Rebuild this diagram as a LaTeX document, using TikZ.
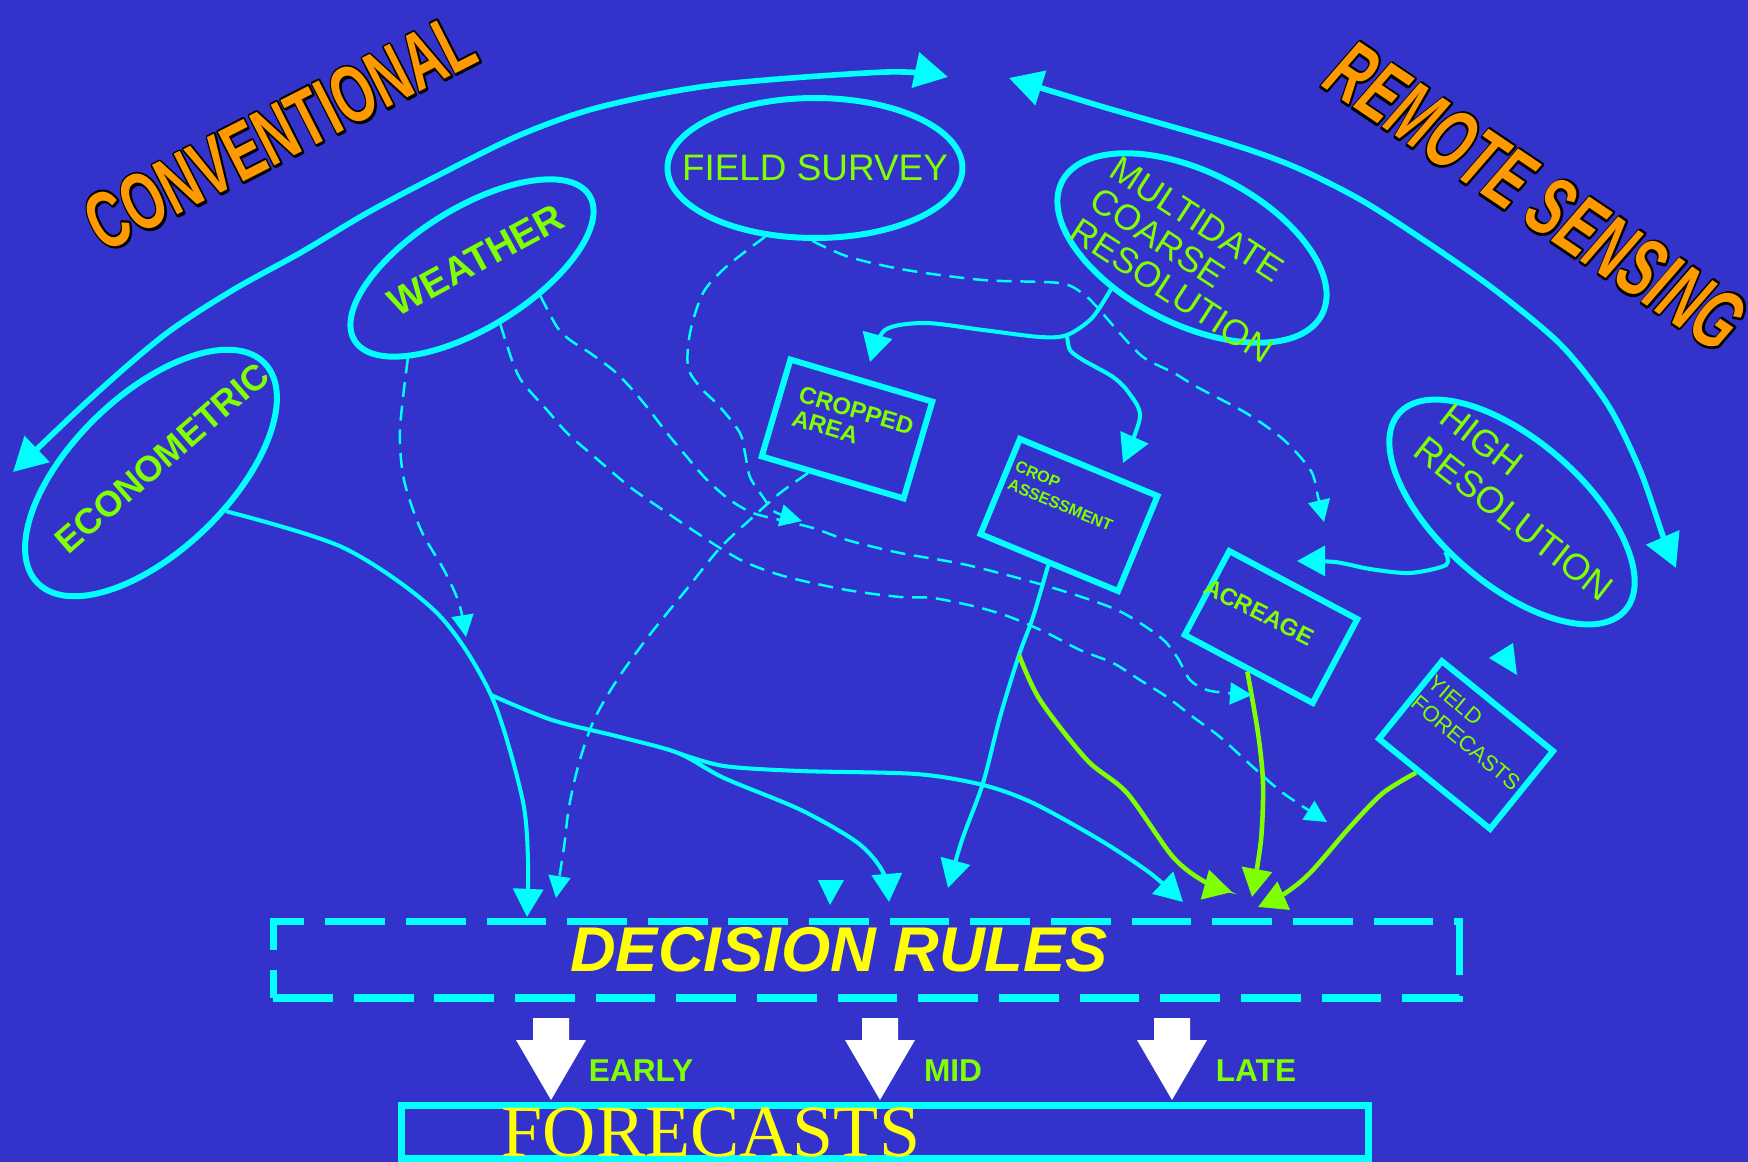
\documentclass[tikz,border=0pt]{standalone}
\usepackage{fontspec}
\setmainfont{Liberation Sans}
\newfontfamily\timesfc{Liberation Serif}
\usetikzlibrary{arrows.meta,shapes.geometric}
\definecolor{slide}{RGB}{51,51,204}
\definecolor{aqua}{RGB}{0,255,255}
\definecolor{lime}{RGB}{128,255,0}
\definecolor{amber}{RGB}{255,153,0}
\definecolor{lemon}{RGB}{255,255,0}
% black stroked glyphs under the orange ones
\newcommand\rimtext[1]{\rlap{\special{pdf:literal direct 0 G 1 j 2.8 w 1 Tr}#1\special{pdf:literal direct 0 Tr}}#1}
\begin{document}
\begin{tikzpicture}[x=0.02cm,y=-0.02cm,
  oval/.style={draw=aqua,line width=3.4pt,ellipse,inner sep=0pt},
  card/.style={draw=aqua,line width=3.4pt,rectangle,inner sep=0pt},
  lbl/.style={text=lime,inner sep=0pt,align=left},
  flow/.style={draw=aqua,line width=2.3pt,-{Triangle[length=16pt,width=17pt]}},
  gflow/.style={draw=lime,line width=2.6pt,-{Triangle[length=16pt,width=17pt]}},
  hint/.style={draw=aqua,line width=1.4pt,dash pattern=on 8.5pt off 5pt,-{Triangle[length=12.5pt,width=12.5pt]}},
  bigarc/.style={draw=aqua,line width=3.2pt}]
\useasboundingbox (0,0) rectangle (1748,1162);
\fill[slide] (0,0) rectangle (1748,1162);

% titles
\node[text=amber,inner sep=0pt,font=\fontsize{46}{46}\selectfont\bfseries,rotate=27,xscale=0.656] (conv) at (280,132) {\rimtext{CONVENTIONAL}};
\node[text=amber,inner sep=0pt,font=\fontsize{48}{48}\selectfont\bfseries\itshape,rotate=-34,xscale=0.63] (remote) at (1536,196) {\rimtext{REMOTE SENSING}};

% sources
\node[oval,minimum width=5.9cm,minimum height=2.8cm] (fs) at (815,168) {};
\node[lbl,font=\fontsize{21}{21}\selectfont] (fstxt) at (815,168) {FIELD SURVEY};
\node[oval,minimum width=5.52cm,minimum height=2.4cm,rotate=31.7] (wea) at (472,268) {};
\node[lbl,font=\fontsize{22}{22}\selectfont\bfseries,rotate=28.5] (weatxt) at (476,260) {WEATHER};
\node[oval,minimum width=6.32cm,minimum height=3.12cm,rotate=44] (eco) at (151,473) {};
\node[lbl,font=\fontsize{20.4}{20.4}\selectfont\bfseries,rotate=41] (ecotxt) at (162,458) {ECONOMETRIC};
\node[oval,minimum width=5.84cm,minimum height=3.04cm,rotate=-27] (mul) at (1192,248) {};
\node[lbl,font=\fontsize{20.4}{21}\selectfont,rotate=-33] (multxt) at (1192,260) {MULTIDATE\\COARSE\\RESOLUTION};
\node[oval,minimum width=6cm,minimum height=2.88cm,rotate=-41] (hr) at (1512,512) {};
\node[lbl,font=\fontsize{21}{24}\selectfont,rotate=-38] (hrtxt) at (1527,502) {HIGH\\RESOLUTION};

% products
\node[card,minimum width=2.96cm,minimum height=2.02cm,rotate=-16.5] (crop) at (847,429) {};
\node[lbl,font=\fontsize{13.6}{14}\selectfont\bfseries,rotate=-16.5] (croptxt) at (853,422) {CROPPED\\AREA};
\node[card,minimum width=2.98cm,minimum height=2.06cm,rotate=-22.5] (cass) at (1069,515) {};
\node[lbl,font=\fontsize{9.2}{11}\selectfont\bfseries,rotate=-22.5] (casstxt) at (1064,496) {CROP\\ASSESSMENT};
\node[card,minimum width=2.9cm,minimum height=1.9cm,rotate=-28] (acre) at (1271,627) {};
\node[lbl,font=\fontsize{13.6}{14}\selectfont\bfseries,rotate=-27] (acretxt) at (1259,612) {ACREAGE};
\node[card,minimum width=2.86cm,minimum height=2cm,rotate=-39] (yld) at (1466,745) {};
\node[lbl,font=\fontsize{12.5}{14.7}\selectfont,rotate=-40] (yldtxt) at (1474,733) {YIELD\\FORECASTS};

% decision rules and forecasts
\node[draw=aqua,line width=4pt,dash pattern=on 34pt off 11.9pt,inner sep=0pt,minimum width=23.74cm,minimum height=1.54cm] (dr) at (866.5,959.5) {};
\node[text=lemon,inner sep=0pt,font=\fontsize{36}{36}\selectfont\bfseries\itshape] (drtxt) at (839,950) {DECISION RULES};
\node[draw=aqua,line width=4pt,inner sep=0pt,minimum width=19.36cm,minimum height=1.07cm] (fc) at (885,1132) {};
\node[text=lemon,inner sep=0pt,font=\timesfc\fontsize{42}{42}\selectfont] (fctxt) at (711,1132) {FORECASTS};
\foreach \cx in {551,880,1172}
  \fill[white] (\cx-18,1018) -- (\cx+18,1018) -- (\cx+18,1040) -- (\cx+35,1040) -- (\cx,1100) -- (\cx-35,1040) -- (\cx-18,1040) -- cycle;
\node[lbl,font=\fontsize{18}{18}\selectfont\bfseries] (early) at (641,1071) {EARLY};
\node[lbl,font=\fontsize{18}{18}\selectfont\bfseries] (mid) at (953,1071) {MID};
\node[lbl,font=\fontsize{18}{18}\selectfont\bfseries] (late) at (1256,1071) {LATE};

% free ends and junctions
\coordinate (convL) at (13,472);
\coordinate (convR) at (948,77);
\coordinate (remL) at (1009,78);
\coordinate (remR) at (1676,568);
\coordinate (j1) at (491,695);
\coordinate (j2) at (678,753);
\coordinate (j3) at (1067,335);
\coordinate (j4) at (1019,655);
\coordinate (t1) at (527,917);
\coordinate (t2) at (889,902);
\coordinate (t3) at (1183,902);
\coordinate (t4) at (870,362);
\coordinate (t5) at (1123,463);
\coordinate (t6) at (1297,561);
\coordinate (t7) at (948,888);
\coordinate (t8) at (1232,892);
\coordinate (t9) at (1252,897);
\coordinate (t10) at (1258,907);
\coordinate (d1) at (466,637);
\coordinate (d2) at (1327,822);
\coordinate (d3) at (1252,695);
\coordinate (d4) at (802,521);
\coordinate (d5) at (1324,522);
\coordinate (d6) at (556,898);

% big arcs
\draw[bigarc,{Triangle[length=19pt,width=20pt]}-{Triangle[length=19pt,width=20pt]}] plot[smooth,tension=0.5] coordinates {(convL) (100,390) (167,333) (233,290) (300,253) (367,213) (433,178) (520,135) (600,107) (715,85) (887,72) (convR)};
\draw[bigarc,{Triangle[length=19pt,width=20pt]}-{Triangle[length=19pt,width=20pt]}] plot[smooth,tension=0.5] coordinates {(remL) (1100,106) (1228,143) (1295,167) (1361,200) (1428,243) (1495,290) (1561,345) (1608,405) (1640,470) (1663,536) (remR)};

% solid links
\draw[flow] plot[smooth] coordinates {(eco.-71) (344,548) (437,613) (j1) (522,797) (528,860) (t1)};
\draw[flow] plot[smooth] coordinates {(j1) (552,720) (620,737) (j2) (724,778) (801,810) (858,843) (883,872) (t2)};
\draw[flow] plot[smooth] coordinates {(j2) (724,766) (800,771) (916,774) (983,785) (1033,803) (1100,840) (1150,873) (t3)};
\draw[flow] plot[smooth] coordinates {(mul.-126) (1092,318) (j3) (1040,337) (983,330) (925,323) (885,330) (t4)};
\draw[flow] plot[smooth] coordinates {(j3) (1070,350) (1083,360) (1113,377) (1129,393) (1140,417) (t5)};
\draw[flow] plot[smooth] coordinates {(hr.-108) (1446,565) (1410,573) (1370,569) (1335,562) (t6)};
\draw[flow] plot[smooth] coordinates {(cass.south) (1033,617) (j4) (1000,717) (983,783) (962,840) (t7)};
\draw[gflow] plot[smooth] coordinates {(j4) (1040,700) (1087,760) (1127,793) (1173,857) (1205,882) (t8)};
\draw[gflow] plot[smooth] coordinates {(acre.south) (1258,733) (1263,783) (1261,840) (t9)};
\draw[gflow] plot[smooth] coordinates {(yld.-112) (1383,793) (1350,827) (1310,873) (1284,894) (t10)};

% dashed links
\draw[hint] plot[smooth] coordinates {(wea.-157) (400,430) (404,480) (421,530) (444,570) (459,603) (d1)};
\draw[hint] plot[smooth] coordinates {(wea.-95) (513,363) (523,383) (547,410) (567,433) (590,453) (630,487) (663,510) (697,533) (720,548) (747,563) (787,577) (847,590) (900,597) (933,598) (977,607) (1010,617) (1047,633) (1080,650) (1113,663) (1140,680) (1167,697) (1193,717) (1220,737) (1253,767) (1283,793) (d2)};
\draw[hint] plot[smooth] coordinates {(wea.-54) (557,327) (570,340) (590,353) (613,370) (630,387) (647,407) (667,433) (687,457) (707,480) (730,500) (753,513) (780,520) (813,528) (847,540) (900,553) (967,565) (1050,587) (1117,610) (1160,637) (1177,657) (1190,680) (1207,690) (1227,693) (d3)};
\draw[hint] plot[smooth] coordinates {(fs.234) (726,267) (703,293) (690,333) (688,367) (700,387) (720,407) (740,433) (745,453) (750,477) (763,497) (775,512) (d4)};
\draw[hint] plot[smooth] coordinates {(fs.-92) (849,257) (906,270) (983,280) (1059,283) (1082,293) (1097,307) (1117,330) (1143,357) (1174,373) (1197,387) (1246,413) (1284,440) (1311,471) (1318,497) (d5)};
\draw[hint] plot[smooth] coordinates {(crop.-115) (780,493) (753,517) (720,548) (686,590) (648,637) (617,680) (594,720) (579,763) (569,807) (564,847) (d6)};

% loose heads
\fill[aqua] (818,880) -- (844,880) -- (830,905) -- cycle;
\fill[aqua] (1489,658) -- (1513,643) -- (1517,675) -- cycle;
\end{tikzpicture}
\end{document}
